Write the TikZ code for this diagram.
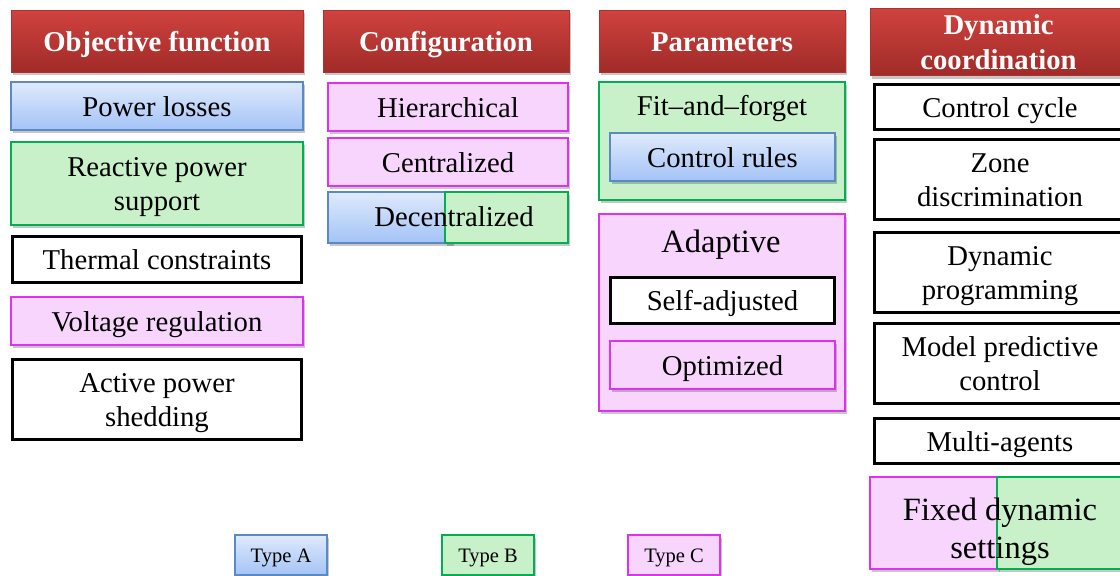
\documentclass[tikz,border=0pt]{standalone}
\usepackage{fontspec}
\setmainfont{Liberation Serif}
\usetikzlibrary{shadows}
\definecolor{hdrTop}{HTML}{D0423E}
\definecolor{hdrBot}{HTML}{A02B28}
\definecolor{hdrEdge}{HTML}{A83330}
\definecolor{aTop}{HTML}{DFEAFC}
\definecolor{aBot}{HTML}{A3C3F6}
\definecolor{aEdge}{HTML}{5A8AC6}
\definecolor{bFill}{HTML}{C8F0C9}
\definecolor{bEdge}{HTML}{00B050}
\definecolor{cFill}{HTML}{F7D5FC}
\definecolor{cEdge}{HTML}{DD33F0}
% fixed line height and depth, so every line sits at the same place in its box
\newcommand\boxstrut{\rule[-0.22em]{0pt}{1.14em}}
\tikzset{
  box/.style={inner sep=0pt, outer sep=0pt, align=center,
    font=\fontsize{28.7}{34}\selectfont},
  shade/.style={drop shadow={shadow xshift=2pt, shadow yshift=-3pt,
    fill=black, opacity=0.22}},
  hdr/.style={box, shade, draw=hdrEdge, line width=0.8pt,
    top color=hdrTop, bottom color=hdrBot, text=white,
    font=\fontsize{28.7}{35}\selectfont\bfseries},
  typeA/.style={box, shade, draw=aEdge, line width=1.2pt,
    top color=aTop, bottom color=aBot},
  typeB/.style={box, shade, draw=bEdge, line width=1.2pt, fill=bFill},
  typeC/.style={box, shade, draw=cEdge, line width=1.2pt, fill=cFill},
  plain/.style={box, draw=black, line width=3pt, fill=white},
  label/.style={inner sep=0pt, align=center, font=\fontsize{28.7}{34}\selectfont},
  biglabel/.style={inner sep=0pt, align=center, font=\fontsize{32.5}{38}\selectfont},
  legend/.style={font=\fontsize{20.5}{24}\selectfont},
}
\begin{document}
\begin{tikzpicture}[x=1pt, y=-1pt]
\useasboundingbox (0,0) rectangle (1120,576);
\clip (0,0) rectangle (1120,576);

% ---- Objective function
\node[hdr, minimum width=292, minimum height=62] (h1) at (157,41) {\boxstrut Objective function};
\node[typeA, minimum width=292, minimum height=48] (pl) at (157,106) {\boxstrut Power losses};
\node[typeB, minimum width=292, minimum height=83] (rp) at (157,183.5) {\boxstrut Reactive power\\support\boxstrut};
\node[plain, minimum width=289, minimum height=46] (tc) at (157,259.5) {\boxstrut Thermal constraints};
\node[typeC, minimum width=292, minimum height=48] (vr) at (157,321) {\boxstrut Voltage regulation};
\node[plain, minimum width=289, minimum height=80] (ap) at (157,399.5) {\boxstrut Active power\\shedding\boxstrut};

% ---- Configuration
\node[hdr, minimum width=246, minimum height=62] (h2) at (446,41) {\boxstrut Configuration};
\node[typeC, minimum width=240, minimum height=48] (hi) at (448,107) {\boxstrut Hierarchical};
\node[typeC, minimum width=240, minimum height=48] (ce) at (448,162) {\boxstrut Centralized};
\node[typeA, minimum width=124, minimum height=51] (dcA) at (390,217.5) {};
\node[typeB, minimum width=123, minimum height=51] (dcB) at (506.5,217.5) {};
\node[label] (dc) at (454,216.7) {\boxstrut Decentralized};

% ---- Parameters
\node[hdr, minimum width=246, minimum height=62] (h3) at (722,41) {\boxstrut Parameters};
\node[typeB, minimum width=246, minimum height=118] (ff) at (722,141) {};
\node[label] (ffl) at (722,105.7) {\boxstrut Fit–and–forget};
\node[typeA, minimum width=225, minimum height=48] (cr) at (722.5,157) {\boxstrut Control rules};
\node[typeC, minimum width=246, minimum height=197] (ad) at (722,312.5) {};
\node[biglabel] (adl) at (721,241.6) {\boxstrut Adaptive};
\node[plain, minimum width=224, minimum height=46] (sa) at (722.5,300.5) {\boxstrut Self-adjusted};
\node[typeC, minimum width=225, minimum height=48] (op) at (722.5,365) {\boxstrut Optimized};

% ---- Dynamic coordination
\node[hdr, minimum width=257, minimum height=62] (h4) at (998.5,42) {\boxstrut Dynamic\\coordination\boxstrut};
\node[plain, minimum width=251, minimum height=45] (cc) at (1000,107) {\boxstrut Control cycle};
\node[plain, minimum width=251, minimum height=80] (zd) at (1000,179.5) {\boxstrut Zone\\discrimination\boxstrut};
\node[plain, minimum width=251, minimum height=80] (dp) at (1000,272.5) {\boxstrut Dynamic\\programming\boxstrut};
\node[plain, minimum width=251, minimum height=80] (mp) at (1000,363.5) {\boxstrut Model predictive\\control\boxstrut};
\node[plain, minimum width=251, minimum height=45] (ma) at (1000,441) {\boxstrut Multi-agents};
\node[typeC, minimum width=128, minimum height=92] (fdC) at (934,523) {};
\node[typeB, minimum width=130, minimum height=92] (fdB) at (1062,523) {};
\node[biglabel] (fd) at (1000,528.6) {\boxstrut Fixed dynamic\\settings\boxstrut};

% ---- Legend
\node[typeA, legend, minimum width=92, minimum height=40] (la) at (281,555) {\boxstrut Type A};
\node[typeB, legend, minimum width=92, minimum height=40] (lb) at (488,555) {\boxstrut Type B};
\node[typeC, legend, minimum width=92, minimum height=40] (lc) at (674,555) {\boxstrut Type C};
\end{tikzpicture}
\end{document}
